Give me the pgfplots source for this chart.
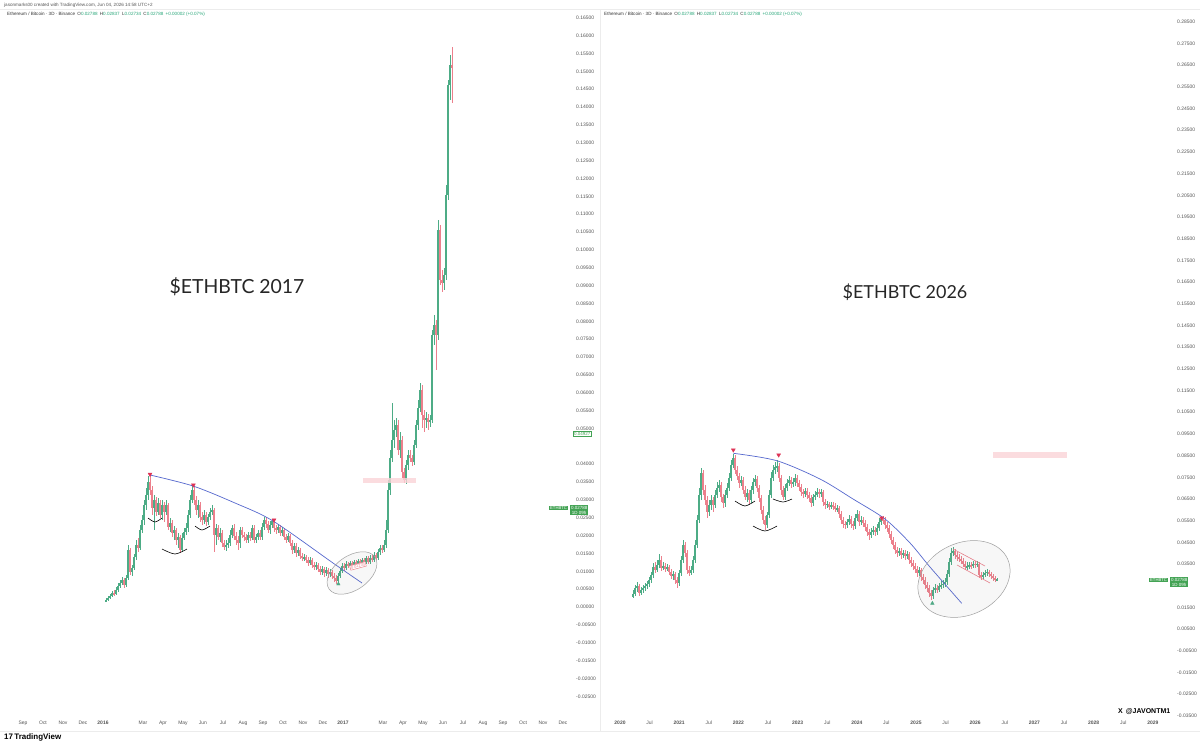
\documentclass[border=0pt]{standalone}
\usepackage{pgfplots}
\pgfplotsset{compat=1.18}
\usepackage{pgfplotstable}
\usepackage{fontspec}
\setmainfont{Liberation Sans}
\newfontfamily\latofont{Lato}
\definecolor{cgreen}{RGB}{77,172,134}
\definecolor{cred}{RGB}{236,128,140}
\definecolor{tvtext}{RGB}{85,85,85}
\definecolor{tvg}{RGB}{38,166,120}
\definecolor{taggreen}{RGB}{67,163,84}
\definecolor{arcblue}{RGB}{86,104,206}
\definecolor{tri}{RGB}{222,50,85}
\definecolor{pinkband}{RGB}{250,212,216}

% Left chart: ETH/BTC 2016-2017, 3D candles (o c h l)
\pgfplotstableread{
o c h l
0.00168 0.00196 0.00252 0.0014
0.00196 0.00252 0.00308 0.00168
0.00252 0.00308 0.00364 0.00224
0.00308 0.00392 0.00448 0.0028
0.00392 0.00364 0.00476 0.00308
0.00364 0.00476 0.0056 0.00336
0.00476 0.00588 0.00672 0.0042
0.00588 0.00672 0.00756 0.00532
0.00672 0.00756 0.0084 0.00616
0.00756 0.00616 0.00812 0.00532
0.00616 0.00812 0.00896 0.0056
0.00812 0.01596 0.01736 0.00756
0.01596 0.0098 0.01652 0.00896
0.0098 0.01092 0.01176 0.00868
0.01092 0.014 0.01484 0.01036
0.014 0.01736 0.01876 0.01316
0.01736 0.01652 0.01932 0.0154
0.01652 0.02156 0.02296 0.01596
0.02156 0.02436 0.02576 0.02072
0.02436 0.02856 0.02996 0.02296
0.02856 0.03136 0.03332 0.02716
0.03136 0.035 0.03668 0.02996
0.035 0.03276 0.03696 0.03136
0.03276 0.02772 0.03388 0.02576
0.02772 0.02996 0.03136 0.02156
0.02996 0.0266 0.0308 0.02548
0.0266 0.02912 0.03052 0.02576
0.02912 0.02576 0.02996 0.02492
0.02576 0.02856 0.02996 0.02436
0.02856 0.0266 0.0294 0.0238
0.0266 0.02856 0.02996 0.02576
0.02856 0.0224 0.02912 0.02156
0.0224 0.02352 0.02492 0.021
0.02352 0.02072 0.02436 0.0196
0.02072 0.02156 0.02268 0.01876
0.02156 0.01876 0.02212 0.01736
0.01876 0.0196 0.02072 0.01652
0.0196 0.01596 0.02016 0.01512
0.01596 0.01932 0.02072 0.0154
0.01932 0.021 0.02212 0.01876
0.021 0.02212 0.02352 0.02016
0.02212 0.02576 0.02716 0.021
0.02576 0.02996 0.03136 0.02492
0.02996 0.03276 0.03416 0.02912
0.03276 0.02996 0.03388 0.02856
0.02996 0.02716 0.03108 0.02576
0.02716 0.02856 0.02996 0.02492
0.02856 0.0252 0.0294 0.0238
0.0252 0.02436 0.0266 0.02296
0.02436 0.02576 0.02716 0.02324
0.02576 0.0238 0.0266 0.02268
0.0238 0.0252 0.02604 0.02296
0.0252 0.0266 0.02772 0.02436
0.0266 0.02716 0.02856 0.02576
0.02716 0.02016 0.02772 0.0154
0.02016 0.02212 0.02324 0.01736
0.02212 0.0196 0.02296 0.01876
0.0196 0.02072 0.02212 0.0182
0.02072 0.01792 0.02156 0.0168
0.01792 0.0168 0.01876 0.01596
0.0168 0.01736 0.01876 0.01568
0.01736 0.01792 0.01932 0.01652
0.01792 0.02016 0.02156 0.01708
0.02016 0.02212 0.02296 0.01932
0.02212 0.01988 0.02324 0.01876
0.01988 0.01876 0.021 0.01736
0.01876 0.01792 0.01988 0.01596
0.01792 0.02156 0.0224 0.01652
0.02156 0.02016 0.0224 0.01932
0.02016 0.0196 0.021 0.01848
0.0196 0.01876 0.02044 0.01792
0.01876 0.02016 0.021 0.01792
0.02016 0.01932 0.021 0.01848
0.01932 0.02212 0.02296 0.01876
0.02212 0.01876 0.02296 0.01792
0.01876 0.0196 0.02044 0.01792
0.0196 0.02072 0.02156 0.01876
0.02072 0.0196 0.02156 0.01876
0.0196 0.0224 0.02352 0.01876
0.0224 0.02436 0.0252 0.02156
0.02436 0.02324 0.0252 0.02212
0.02324 0.02156 0.02408 0.02072
0.02156 0.02296 0.02408 0.02044
0.02296 0.02408 0.02464 0.02212
0.02408 0.02212 0.02464 0.021
0.02212 0.02156 0.02296 0.02044
0.02156 0.0224 0.02324 0.02072
0.0224 0.02072 0.02296 0.01988
0.02072 0.02156 0.0224 0.01988
0.02156 0.0196 0.02212 0.01876
0.0196 0.01876 0.02044 0.01792
0.01876 0.01988 0.02072 0.0182
0.01988 0.01792 0.02044 0.01708
0.01792 0.01596 0.01876 0.01484
0.01596 0.01708 0.01792 0.01512
0.01708 0.01512 0.01792 0.014
0.01512 0.01596 0.0168 0.01428
0.01596 0.01428 0.01652 0.01344
0.01428 0.01372 0.01512 0.01288
0.01372 0.014 0.01484 0.01288
0.014 0.01316 0.01456 0.01232
0.01316 0.01232 0.014 0.01148
0.01232 0.01316 0.014 0.01176
0.01316 0.01176 0.01372 0.01092
0.01176 0.0112 0.0126 0.01036
0.0112 0.01176 0.0126 0.01036
0.01176 0.01064 0.01232 0.0098
0.01064 0.0098 0.01148 0.00896
0.0098 0.01064 0.01148 0.00896
0.01064 0.00952 0.0112 0.0084
0.00952 0.01036 0.0112 0.00868
0.01036 0.00924 0.01092 0.00812
0.00924 0.0098 0.01064 0.0084
0.0098 0.00868 0.01036 0.00784
0.00868 0.00812 0.00952 0.007
0.00812 0.00728 0.00896 0.00644
0.00728 0.00868 0.00952 0.00672
0.00868 0.01008 0.01092 0.00812
0.01008 0.01148 0.01232 0.00952
0.01148 0.01092 0.01232 0.01008
0.01092 0.01204 0.01288 0.01036
0.01204 0.01148 0.0126 0.01092
0.01148 0.01232 0.01288 0.01092
0.01232 0.01176 0.01288 0.0112
0.01176 0.0126 0.01316 0.0112
0.0126 0.01204 0.01316 0.01148
0.01204 0.01288 0.01344 0.01148
0.01288 0.01232 0.01344 0.01176
0.01232 0.01316 0.01372 0.01176
0.01316 0.0126 0.01372 0.01204
0.0126 0.01372 0.01428 0.01204
0.01372 0.0126 0.01428 0.01204
0.0126 0.01372 0.01456 0.01204
0.01372 0.01316 0.01456 0.0126
0.01316 0.01456 0.0154 0.0126
0.01456 0.01372 0.01512 0.01316
0.01372 0.0154 0.01624 0.01316
0.0154 0.01652 0.01736 0.01456
0.01652 0.01596 0.01736 0.01512
0.01596 0.01736 0.01876 0.0154
0.01736 0.02156 0.02436 0.01652
0.02156 0.03276 0.03556 0.02072
0.03276 0.04172 0.04396 0.03136
0.04172 0.04676 0.05712 0.0406
0.04676 0.04956 0.05236 0.04452
0.04956 0.05096 0.05292 0.0476
0.05096 0.04396 0.05236 0.04256
0.04396 0.04676 0.049 0.04172
0.04676 0.0378 0.04788 0.03612
0.0378 0.03556 0.03892 0.03472
0.03556 0.03976 0.04116 0.03444
0.03976 0.04256 0.04396 0.03836
0.04256 0.04172 0.04396 0.0406
0.04172 0.0406 0.04256 0.03948
0.0406 0.04536 0.04676 0.03976
0.04536 0.05096 0.05236 0.04452
0.05096 0.05572 0.05796 0.04956
0.05572 0.06076 0.06272 0.0546
0.06076 0.05376 0.06216 0.05012
0.05376 0.05236 0.05516 0.049
0.05236 0.05292 0.0546 0.05012
0.05292 0.0518 0.05404 0.04956
0.0518 0.05236 0.05376 0.0504
0.05236 0.07616 0.07756 0.05152
0.07616 0.07896 0.08176 0.07336
0.07896 0.07616 0.08036 0.06636
0.07616 0.10556 0.10836 0.07476
0.10556 0.09156 0.10696 0.09016
0.09156 0.09072 0.09436 0.0882
0.09072 0.09296 0.09492 0.08876
0.09296 0.11536 0.11816 0.09156
0.11536 0.14616 0.14756 0.11396
0.14616 0.15176 0.15456 0.14196
0.15176 0.15092 0.1568 0.14112
}\lefttab

% Right chart: ETH/BTC 2020-2026 (o c h l)
\pgfplotstableread{
o c h l
0.01982 0.02121 0.02305 0.01936
0.02121 0.02397 0.02536 0.02028
0.02397 0.02489 0.02674 0.02213
0.02489 0.02167 0.02582 0.02028
0.02167 0.02305 0.02443 0.02075
0.02305 0.02397 0.02536 0.02167
0.02397 0.02489 0.02628 0.02259
0.02489 0.02582 0.0272 0.02351
0.02582 0.02766 0.02904 0.02443
0.02766 0.02997 0.03135 0.02628
0.02997 0.03365 0.0355 0.02858
0.03365 0.03227 0.03596 0.03089
0.03227 0.03458 0.03688 0.03135
0.03458 0.03688 0.03965 0.03319
0.03688 0.03319 0.03872 0.03181
0.03319 0.03411 0.03596 0.03227
0.03411 0.03273 0.0355 0.03135
0.03273 0.03365 0.03504 0.03181
0.03365 0.03135 0.03458 0.02997
0.03135 0.0295 0.03273 0.02812
0.0295 0.03043 0.03181 0.02766
0.03043 0.02766 0.03135 0.02582
0.02766 0.02628 0.02904 0.02397
0.02628 0.03089 0.03227 0.02489
0.03089 0.03688 0.03872 0.0295
0.03688 0.0438 0.0461 0.0355
0.0438 0.04011 0.04518 0.03826
0.04011 0.03227 0.04149 0.03043
0.03227 0.03089 0.03411 0.0295
0.03089 0.03227 0.03411 0.02997
0.03227 0.03688 0.03872 0.03089
0.03688 0.0438 0.0461 0.0355
0.0438 0.05532 0.05763 0.04241
0.05532 0.06685 0.07007 0.05394
0.06685 0.07699 0.07929 0.06454
0.07699 0.06915 0.07837 0.06685
0.06915 0.06454 0.07146 0.06224
0.06454 0.05901 0.06638 0.05624
0.05901 0.06224 0.06454 0.05716
0.06224 0.06454 0.06685 0.05993
0.06454 0.06224 0.06592 0.05901
0.06224 0.06685 0.06915 0.06085
0.06685 0.07007 0.07284 0.06546
0.07007 0.07146 0.07376 0.06823
0.07146 0.06592 0.07284 0.06362
0.06592 0.06316 0.06731 0.06085
0.06316 0.06685 0.06915 0.06131
0.06685 0.07007 0.07238 0.06546
0.07007 0.07468 0.07699 0.06869
0.07468 0.08068 0.08298 0.0733
0.08068 0.0839 0.08575 0.07929
0.0839 0.07837 0.08529 0.07653
0.07837 0.0756 0.08021 0.07376
0.0756 0.07238 0.07699 0.07007
0.07238 0.07376 0.0756 0.07099
0.07376 0.06915 0.07514 0.06731
0.06915 0.06592 0.07099 0.06454
0.06592 0.06777 0.06961 0.06362
0.06777 0.06454 0.06915 0.0627
0.06454 0.06915 0.07099 0.06316
0.06915 0.07284 0.07468 0.06731
0.07284 0.07422 0.07607 0.07099
0.07422 0.07007 0.0756 0.06823
0.07007 0.06546 0.07146 0.06362
0.06546 0.05993 0.06685 0.05809
0.05993 0.05532 0.06177 0.05348
0.05532 0.05302 0.05716 0.05071
0.05302 0.05763 0.05901 0.05163
0.05763 0.06685 0.06915 0.05624
0.06685 0.07468 0.07745 0.06546
0.07468 0.07837 0.08068 0.0733
0.07837 0.07975 0.08206 0.07653
0.07975 0.08021 0.08298 0.07745
0.08021 0.07468 0.0816 0.07284
0.07468 0.06915 0.07607 0.06685
0.06915 0.06592 0.07099 0.06454
0.06592 0.07007 0.07192 0.06454
0.07007 0.07238 0.07422 0.06869
0.07238 0.07376 0.0756 0.07099
0.07376 0.07192 0.07514 0.07007
0.07192 0.07284 0.07468 0.07053
0.07284 0.07468 0.07653 0.07099
0.07468 0.07238 0.07607 0.07053
0.07238 0.07053 0.07376 0.06869
0.07053 0.06823 0.07192 0.06638
0.06823 0.06731 0.06961 0.06546
0.06731 0.06869 0.07007 0.06592
0.06869 0.06685 0.07007 0.065
0.06685 0.06546 0.06823 0.06362
0.06546 0.06316 0.06685 0.06131
0.06316 0.06592 0.06731 0.06177
0.06592 0.06685 0.06869 0.06454
0.06685 0.06823 0.07007 0.06592
0.06823 0.06731 0.06961 0.06546
0.06731 0.06823 0.06961 0.06592
0.06823 0.06362 0.06915 0.06177
0.06362 0.06224 0.065 0.06039
0.06224 0.0627 0.06408 0.06085
0.0627 0.06131 0.06362 0.05993
0.06131 0.06224 0.06362 0.06039
0.06224 0.06177 0.06362 0.05993
0.06177 0.06039 0.06316 0.05901
0.06039 0.06085 0.06224 0.05901
0.06085 0.05809 0.06177 0.05624
0.05809 0.05532 0.05947 0.05348
0.05532 0.05348 0.0567 0.05163
0.05348 0.05302 0.05486 0.05117
0.05302 0.0544 0.05578 0.05163
0.0544 0.05578 0.05763 0.05302
0.05578 0.05348 0.05716 0.05163
0.05348 0.05255 0.05486 0.05071
0.05255 0.05624 0.05809 0.05117
0.05624 0.05809 0.05993 0.05486
0.05809 0.0544 0.05947 0.05255
0.0544 0.05532 0.05716 0.05302
0.05532 0.05394 0.0567 0.05209
0.05394 0.05209 0.05532 0.05025
0.05209 0.04979 0.05348 0.04794
0.04979 0.04841 0.05117 0.0461
0.04841 0.04979 0.05163 0.04702
0.04979 0.05071 0.05255 0.04841
0.05071 0.04979 0.05209 0.04794
0.04979 0.05163 0.05348 0.04841
0.05163 0.0544 0.05624 0.05025
0.0544 0.05578 0.05716 0.05302
0.05578 0.05532 0.05716 0.05348
0.05532 0.05302 0.0567 0.05117
0.05302 0.05163 0.0544 0.04979
0.05163 0.04887 0.05302 0.04702
0.04887 0.0461 0.05025 0.04426
0.0461 0.0438 0.04748 0.04195
0.0438 0.04149 0.04518 0.03965
0.04149 0.04011 0.04287 0.03826
0.04011 0.04103 0.04241 0.03872
0.04103 0.03919 0.04241 0.03734
0.03919 0.04011 0.04149 0.0378
0.04011 0.03872 0.04149 0.03688
0.03872 0.03965 0.04103 0.03734
0.03965 0.03688 0.04057 0.03504
0.03688 0.0355 0.03826 0.03365
0.0355 0.03411 0.03688 0.03227
0.03411 0.03273 0.0355 0.03089
0.03273 0.03089 0.03411 0.02904
0.03089 0.03227 0.03365 0.0295
0.03227 0.02904 0.03319 0.0272
0.02904 0.02766 0.03043 0.02582
0.02766 0.02536 0.02904 0.02351
0.02536 0.02397 0.02674 0.02213
0.02397 0.02167 0.02536 0.01982
0.02167 0.02028 0.02305 0.01844
0.02028 0.02305 0.02443 0.0189
0.02305 0.02397 0.02582 0.02167
0.02397 0.02305 0.02536 0.02167
0.02305 0.02489 0.02628 0.02213
0.02489 0.02536 0.0272 0.02351
0.02536 0.02582 0.02766 0.02397
0.02582 0.02674 0.02858 0.02443
0.02674 0.03043 0.03227 0.02536
0.03043 0.03596 0.0378 0.02904
0.03596 0.04011 0.04241 0.03458
0.04011 0.04103 0.04287 0.03872
0.04103 0.03919 0.04195 0.03734
0.03919 0.03826 0.04057 0.03642
0.03826 0.03734 0.03965 0.03596
0.03734 0.03642 0.03872 0.03504
0.03642 0.03504 0.0378 0.03365
0.03504 0.03365 0.03642 0.03227
0.03365 0.03411 0.03596 0.03227
0.03411 0.03458 0.03596 0.03273
0.03458 0.03411 0.03596 0.03273
0.03411 0.03504 0.03642 0.03319
0.03504 0.03458 0.03642 0.03319
0.03458 0.03504 0.03642 0.03365
0.03504 0.02997 0.03596 0.02858
0.02997 0.02904 0.03135 0.02766
0.02904 0.02997 0.03135 0.02812
0.02997 0.03089 0.03227 0.02904
0.03089 0.03135 0.03273 0.0295
0.03135 0.03043 0.03227 0.02904
0.03043 0.0295 0.03135 0.02812
0.0295 0.02858 0.03043 0.0272
0.02858 0.02766 0.0295 0.02674
0.02766 0.02788 0.02858 0.0272
}\righttab

\newcommand\candleplots[2]{%
  \addplot[draw=none, mark=none, forget plot,
    restrict expr to domain={\thisrow{c}-\thisrow{o}}{0:1},
    error bars/.cd, y dir=both, y explicit, error mark=none,
    error bar style={draw=cgreen, solid, line width=0.5bp}]
    table[x expr={#2}, y expr={(\thisrow{h}+\thisrow{l})/2},
          y error expr={(\thisrow{h}-\thisrow{l})/2}] {#1};
  \addplot[draw=none, mark=none, forget plot,
    restrict expr to domain={\thisrow{c}-\thisrow{o}}{-1:-0.00001},
    error bars/.cd, y dir=both, y explicit, error mark=none,
    error bar style={draw=cred, solid, line width=0.5bp}]
    table[x expr={#2}, y expr={(\thisrow{h}+\thisrow{l})/2},
          y error expr={(\thisrow{h}-\thisrow{l})/2}] {#1};
  \addplot[draw=none, mark=none, forget plot,
    restrict expr to domain={\thisrow{c}-\thisrow{o}}{0:1},
    error bars/.cd, y dir=both, y explicit, error mark=none,
    error bar style={draw=cgreen, solid, line width=1.4bp}]
    table[x expr={#2}, y expr={(\thisrow{o}+\thisrow{c})/2},
          y error expr={abs(\thisrow{c}-\thisrow{o})/2+0.00005}] {#1};
  \addplot[draw=none, mark=none, forget plot,
    restrict expr to domain={\thisrow{c}-\thisrow{o}}{-1:-0.00001},
    error bars/.cd, y dir=both, y explicit, error mark=none,
    error bar style={draw=cred, solid, line width=1.4bp}]
    table[x expr={#2}, y expr={(\thisrow{o}+\thisrow{c})/2},
          y error expr={abs(\thisrow{c}-\thisrow{o})/2}] {#1};
}

\pgfplotsset{tv/.style={
  scale only axis, width=568bp, height=708bp,
  anchor=south west,
  axis line style={draw=none}, major tick length=0pt, tick style={draw=none},
  yticklabel pos=right, scaled y ticks=false,
  y tick label style={font=\fontsize{5}{5}\selectfont, text=tvtext, anchor=west,
     inner sep=0pt,
     /pgf/number format/fixed, /pgf/number format/fixed zerofill,
     /pgf/number format/precision=5, /pgf/number format/assume math mode=true},
  x tick label style={font=\fontsize{5}{5}\selectfont, text=tvtext, anchor=north,
     inner sep=0pt, yshift=-3bp},
}}

\begin{document}
\begin{tikzpicture}
\path[use as bounding box, fill=white] (0,0) rectangle (1200bp,-746bp);

% ---------------- left pane ----------------
\begin{axis}[tv, at={(0bp,-718bp)},
  xmin=-5.15, xmax=23.25, ymin=-0.03108, ymax=0.16716,
  y tick label style={xshift=8bp},
  ytick={-0.025,-0.02,-0.015,-0.01,-0.005,0,0.005,0.01,0.015,0.02,0.025,0.03,0.035,0.04,0.05,0.055,0.06,0.065,0.07,0.075,0.08,0.085,0.09,0.095,0.1,0.105,0.11,0.115,0.12,0.125,0.13,0.135,0.14,0.145,0.15,0.155,0.16,0.165},
  xtick={-4,-3,-2,-1,0,2,3,4,5,6,7,8,9,10,11,12,14,15,16,17,18,19,20,21,22,23},
  xticklabels={Sep,Oct,Nov,Dec,\textbf{2016},Mar,Apr,May,Jun,Jul,Aug,Sep,Oct,Nov,Dec,\textbf{2017},Mar,Apr,May,Jun,Jul,Aug,Sep,Oct,Nov,Dec},
]
\candleplots{\lefttab}{0.15+0.1*\coordindex}
\addplot[smooth, arcblue, line width=0.7bp] coordinates {(2.35,0.03696) (4.5,0.03388) (6.6,0.02912) (8.5,0.02408) (11.5,0.01232) (12.95,0.00672)};
\addplot[only marks, mark=triangle*, mark options={rotate=180, fill=tri, draw=tri}, mark size=2.2bp] coordinates {(2.35,0.03716) (4.52,0.03416) (8.55,0.02436)};
\addplot[only marks, mark=triangle*, mark options={fill=cgreen, draw=cgreen}, mark size=2bp] coordinates {(11.77,0.00644)};
\addplot[smooth, black, line width=0.6bp] coordinates {(2.25,0.02492) (2.6,0.0238) (2.95,0.02492)};
\addplot[smooth, black, line width=0.6bp] coordinates {(2.95,0.01624) (3.6,0.01484) (4.2,0.01624)};
\addplot[smooth, black, line width=0.6bp] coordinates {(4.6,0.02268) (4.95,0.02156) (5.35,0.02268)};
\end{axis}

% ---------------- right pane ----------------
\begin{axis}[tv, at={(600bp,-718bp)},
  xmin=2019.662, xmax=2029.257, ymin=-0.03596, ymax=0.29043,
  y tick label style={xshift=9bp},
  ytick={-0.035,-0.025,-0.015,-0.005,0.005,0.015,0.035,0.045,0.055,0.065,0.075,0.085,0.095,0.105,0.115,0.125,0.135,0.145,0.155,0.165,0.175,0.185,0.195,0.205,0.215,0.225,0.235,0.245,0.255,0.265,0.275,0.285},
  xtick={2020,2020.5,2021,2021.5,2022,2022.5,2023,2023.5,2024,2024.5,2025,2025.5,2026,2026.5,2027,2027.5,2028,2028.5,2029},
  xticklabels={\textbf{2020},Jul,\textbf{2021},Jul,\textbf{2022},Jul,\textbf{2023},Jul,\textbf{2024},Jul,\textbf{2025},Jul,\textbf{2026},Jul,\textbf{2027},Jul,\textbf{2028},Jul,\textbf{2029}},
]
\candleplots{\righttab}{2020.2196+0.033784*\coordindex}
\addplot[smooth, arcblue, line width=0.7bp] coordinates {(2021.914,0.08607) (2022.647,0.08266) (2023.378,0.07422) (2023.936,0.065) (2024.476,0.05578) (2024.899,0.04472) (2025.236,0.03365) (2025.772,0.01692)};
\addplot[only marks, mark=triangle*, mark options={rotate=180, fill=tri, draw=tri}, mark size=2.2bp] coordinates {(2021.914,0.08759) (2022.68,0.08529) (2024.42,0.05624)};
\addplot[only marks, mark=triangle*, mark options={fill=cgreen, draw=cgreen}, mark size=2bp] coordinates {(2025.276,0.01692)};
\addplot[smooth, black, line width=0.6bp] coordinates {(2021.943,0.06408) (2022.111,0.06177) (2022.28,0.06408)};
\addplot[smooth, black, line width=0.6bp] coordinates {(2022.247,0.05255) (2022.449,0.05025) (2022.652,0.05255)};
\addplot[smooth, black, line width=0.6bp] coordinates {(2022.584,0.065) (2022.753,0.06362) (2022.905,0.065)};
\addplot[cred, line width=0.6bp] coordinates {(2025.625,0.04195) (2026.166,0.03411)};
\addplot[cred, line width=0.6bp] coordinates {(2025.693,0.03458) (2026.25,0.02628)};
\end{axis}

% ---------------- overlays in pixel coordinates ----------------
\begin{scope}[x=1bp, y=-1bp]
  \draw[gray!15, line width=0.4bp] (0,9.5) -- (1200,9.5);
  \draw[gray!15, line width=0.4bp] (600,9.5) -- (600,731);
  \draw[gray!15, line width=0.4bp] (0,731) -- (1200,731);
  % pink bands
  \fill[pinkband, opacity=0.8] (363,478) rectangle (416,483);
  \fill[pinkband, opacity=0.8] (993,452) rectangle (1067,458);
  % ellipses
  \draw[gray!75, line width=0.5bp, fill=gray, fill opacity=0.06] (352,573) ellipse [x radius=28, y radius=17, rotate=35];
  \draw[gray!75, line width=0.5bp, fill=gray, fill opacity=0.06] (964,579) ellipse [x radius=48, y radius=36, rotate=25];
  % small red tag in left ellipse
  \node[draw=cred, fill=white, line width=0.5bp, inner sep=0.8bp, rotate=15, text=cred,
        font=\fontsize{4}{4}\selectfont] at (358,566) {0.01233};
  % headers
  \node[anchor=west, inner sep=0pt, text=tvtext, font=\fontsize{4.6}{5}\selectfont] at (4,5)
    {jasonmarks00 created with TradingView.com, Jun 04, 2026 14:58 UTC+2};
  \node[anchor=west, inner sep=0pt, text=black!80, font=\fontsize{4.6}{5}\selectfont] at (7,14)
    {Ethereum / Bitcoin · 3D · Binance\enspace O\textcolor{tvg}{0.02788}\enspace H\textcolor{tvg}{0.02837}\enspace L\textcolor{tvg}{0.02734}\enspace C\textcolor{tvg}{0.02788}\enspace \textcolor{tvg}{+0.00002 (+0.07\%)}};
  \node[anchor=west, inner sep=0pt, text=black!80, font=\fontsize{4.6}{5}\selectfont] at (604,14)
    {Ethereum / Bitcoin · 3D · Binance\enspace O\textcolor{tvg}{0.02788}\enspace H\textcolor{tvg}{0.02837}\enspace L\textcolor{tvg}{0.02734}\enspace C\textcolor{tvg}{0.02788}\enspace \textcolor{tvg}{+0.00002 (+0.07\%)}};
  % big titles
  \node[font=\fontsize{19.5}{20}\latofont, text=black!85] at (237,287) {\$ETHBTC 2017};
  \node[font=\fontsize{18}{18}\latofont, text=black!85] at (905,292) {\$ETHBTC 2026};
  % price tags
  \node[anchor=west, fill=white, draw=taggreen, line width=0.4bp, text=taggreen, inner sep=0.9bp,
        font=\fontsize{4.5}{5}\selectfont] at (573,434) {0.04927};
  \node[anchor=east, fill=taggreen, text=white, inner sep=0.9bp, font=\fontsize{4.2}{5}\selectfont] at (568,508) {ETHBTC};
  \node[anchor=west, fill=taggreen, text=white, inner sep=0.9bp, align=center,
        font=\fontsize{4.5}{5}\selectfont] at (570,510) {0.02788\\1D 09h};
  \node[anchor=east, fill=taggreen, text=white, inner sep=0.9bp, font=\fontsize{4.2}{5}\selectfont] at (1168,580) {ETHBTC};
  \node[anchor=west, fill=taggreen, text=white, inner sep=0.9bp, align=center,
        font=\fontsize{4.5}{5}\selectfont] at (1170,582) {0.02788\\1D 09h};
  % footer
  \node[anchor=west, inner sep=0pt, font=\fontsize{8}{8}\selectfont\bfseries] at (4,737) {17\,TradingView};
  \node[anchor=west, inner sep=0pt, font=\fontsize{7}{7}\selectfont\bfseries] at (1118,712) {X\, @JAVONTM1};
\end{scope}
\end{tikzpicture}
\end{document}
